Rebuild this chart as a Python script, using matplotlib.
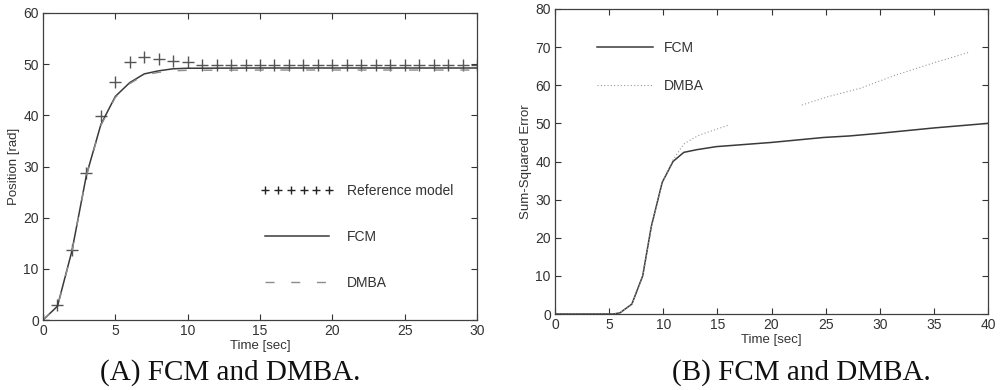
import numpy as np
import matplotlib
matplotlib.use("Agg")
import matplotlib.pyplot as plt

plt.rcParams['font.family'] = ['Liberation Sans', 'DejaVu Sans']

# (A) position response
t_ref = list(range(0, 31))
pos_ref = [0, 3.0, 13.7, 28.8, 39.8, 46.6, 50.4, 51.4, 51.1, 50.7, 50.4,
           49.9, 49.8, 49.8, 49.8, 49.8, 49.8, 49.8, 49.8, 49.8, 49.8,
           49.8, 49.8, 49.8, 49.8, 49.8, 49.8, 49.8, 49.8, 49.8, 49.8]
t_a = [0, 1, 2, 3, 4, 5, 6, 7, 8, 9, 10, 15, 20, 25, 30]
pos_fcm = [0, 2.7, 13.5, 28.3, 38.2, 43.7, 46.4, 48.1, 48.7, 49.1, 49.2, 49.25, 49.25, 49.25, 49.25]
pos_dmba = [0, 2.6, 13.4, 28.2, 38.0, 43.5, 46.2, 47.9, 48.4, 48.7, 48.8, 48.85, 48.85, 48.85, 48.85]

# (B) sum-squared error
t_fcm_b = [0, 5.4, 6.0, 7.1, 8.1, 8.9, 9.9, 10.9, 11.9, 13.1, 14.9, 20, 24.8, 27.2, 30, 35, 40]
sse_fcm = [0, 0, 0.3, 2.6, 10, 23, 34.5, 40, 42.4, 43.1, 43.9, 45, 46.3, 46.7, 47.4, 48.8, 50]
t_dmba_b = [0, 5.4, 6.0, 7.1, 8.1, 8.9, 9.9, 10.9, 11.9, 12.9, 13.4, 16.1, 19.5,
            22.8, 25.2, 28.2, 31.5, 34.9, 38.2]
sse_dmba = [0, 0, 0.3, 2.5, 9.8, 22.8, 34.4, 40.4, 44.6, 46.3, 47.0, 49.6, np.nan,
            54.8, 57.0, 59.2, 62.7, 65.8, 68.6]

line_col = '#3a3a3a'
dmba_col = '#8c8c8c'
txt_col = '#333333'

fig = plt.figure(figsize=(10.01, 3.90), dpi=100)
ax1 = fig.add_axes([43 / 1001, 1 - 320 / 390, 434 / 1001, 307 / 390])
ax2 = fig.add_axes([555 / 1001, 1 - 314 / 390, 433 / 1001, 305 / 390])

ax1.plot(t_ref, pos_ref, '+', color='#555555', ms=8, mew=1.0, label='Reference model')
ax1.plot(t_a, pos_fcm, '-', color=line_col, lw=1.1, label='FCM')
ax1.plot(t_a, pos_dmba, color=dmba_col, lw=1.0, dashes=(6.5, 12), label='DMBA')
ax1.set_xlim(0, 30)
ax1.set_ylim(0, 60)
ax1.set_xticks(range(0, 31, 5))
ax1.set_yticks(range(0, 61, 10))
ax1.set_xlabel('Time [sec]', fontsize=9.5, color=txt_col, labelpad=1)
ax1.set_ylabel('Position [rad]', fontsize=9.5, color=txt_col, labelpad=2)
leg1 = ax1.legend(loc='center left', bbox_to_anchor=(0.49, 0.27), frameon=False,
                  numpoints=6, markerscale=0.65, handlelength=5.2, handletextpad=1.0,
                  labelspacing=2.3, fontsize=10, labelcolor=txt_col, borderaxespad=0)
leg1.get_lines()[0].set_color('#222222')

ax2.plot(t_fcm_b, sse_fcm, '-', color=line_col, lw=1.1, label='FCM')
ax2.plot(t_dmba_b, sse_dmba, color='#9a9a9a', lw=0.8, linestyle=(0, (1, 2)), label='DMBA')
ax2.set_xlim(0, 40)
ax2.set_ylim(0, 80)
ax2.set_xticks(range(0, 41, 5))
ax2.set_yticks(range(0, 81, 10))
ax2.set_xlabel('Time [sec]', fontsize=9.5, color=txt_col, labelpad=1)
ax2.set_ylabel('Sum-Squared Error', fontsize=9.5, color=txt_col, labelpad=2)
ax2.legend(loc='center left', bbox_to_anchor=(0.085, 0.81), frameon=False,
           handlelength=4.0, handletextpad=0.8, labelspacing=1.7,
           fontsize=10, labelcolor=txt_col, borderaxespad=0)

for ax in (ax1, ax2):
    ax.tick_params(direction='in', top=True, right=True, length=4, width=0.8,
                   labelsize=10, colors=txt_col, pad=3)
    for s in ax.spines.values():
        s.set_color('#404040')
        s.set_linewidth(0.9)

fig.text(230 / 1001, 1 - 373 / 390, '(A) FCM and DMBA.', ha='center', va='center',
         family='Liberation Serif', fontsize=21, color='#111111')
fig.text(801 / 1001, 1 - 373 / 390, '(B) FCM and DMBA.', ha='center', va='center',
         family='Liberation Serif', fontsize=21, color='#111111')

fig.savefig('out.png', dpi=100)
